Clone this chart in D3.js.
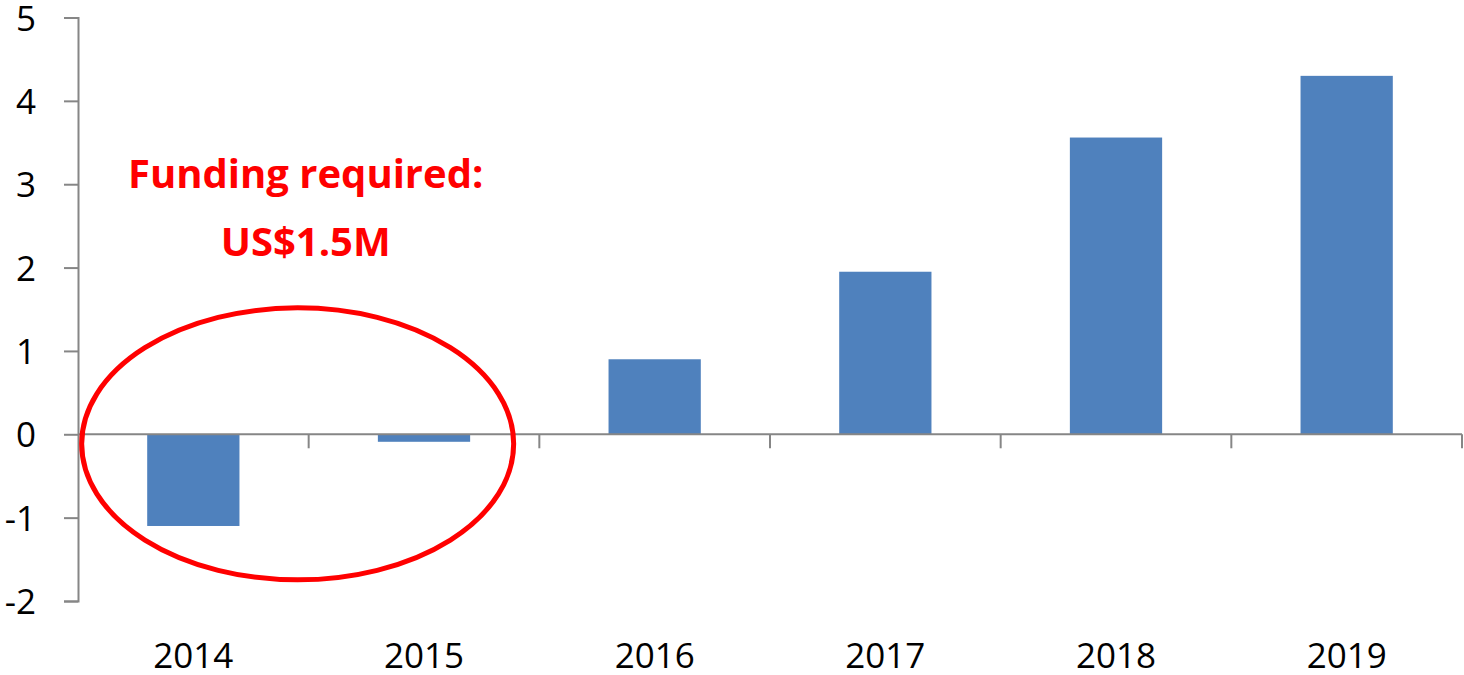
<!DOCTYPE html>
<html><head><meta charset="utf-8">
<script src="https://cdn.jsdelivr.net/npm/d3@7"></script>
<style>html,body{margin:0;padding:0;background:#fff;}svg{display:block;}</style>
</head><body>
<svg id="chart" width="1464" height="675"></svg>
<script>
const categories = ["2014","2015","2016","2017","2018","2019"];
const values = [-1.1, -0.09, 0.90, 1.95, 3.56, 4.30];
const yTicks = [-2,-1,0,1,2,3,4,5];
const annotationLines = ["Funding required:", "US$1.5M"];

const svg = d3.select("#chart");
const mLeft = 78, mRight = 1462, mTop = 17.5, mBottom = 601;
const x = d3.scaleBand().domain(categories).range([mLeft, mRight]).paddingInner(0.6).paddingOuter(0.3);
const xb = d3.scaleBand().domain(categories).range([mLeft, mRight]);
const y = d3.scaleLinear().domain([-2,5]).range([mBottom, mTop]);
const axisColor = "#868686";
const font = "Open Sans, Lato, sans-serif";

// bars
svg.append("g").selectAll("rect").data(values).join("rect")
  .attr("x", (d,i)=>x(categories[i]))
  .attr("width", x.bandwidth())
  .attr("y", d=>y(Math.max(0,d)))
  .attr("height", d=>Math.abs(y(d)-y(0)))
  .attr("fill", "#4F81BD");

// y axis
const yAxis = svg.append("g").attr("transform", `translate(${mLeft},0)`)
  .call(d3.axisLeft(y).tickValues(yTicks).tickSize(14).tickPadding(28).tickFormat(d3.format("d")));
yAxis.select(".domain").attr("stroke", axisColor).attr("stroke-width", 2);
yAxis.selectAll(".tick line").attr("stroke", axisColor).attr("stroke-width", 2);
yAxis.selectAll(".tick text").attr("font-family", font).attr("font-size", 35).attr("fill", "#000")
  .attr("dy", "0.36em").text(d => d < 0 ? "-" + Math.abs(d) : d);

// x axis at zero
const xAxisG = svg.append("g").attr("transform", `translate(0,${y(0)})`);
xAxisG.append("line").attr("x1", mLeft).attr("x2", mRight).attr("stroke", axisColor).attr("stroke-width", 2);
xAxisG.selectAll("line.tk").data(categories).join("line").attr("class","tk")
  .attr("x1", d=>xb(d)+xb.bandwidth()).attr("x2", d=>xb(d)+xb.bandwidth())
  .attr("y1", 0).attr("y2", 14).attr("stroke", axisColor).attr("stroke-width", 2);
svg.append("g").selectAll("text").data(categories).join("text")
  .attr("x", d=>xb(d)+xb.bandwidth()/2).attr("y", 668)
  .attr("text-anchor","middle").attr("font-family", font).attr("font-size", 35).attr("fill","#000")
  .text(d=>d);

// annotation
const ax = xb("2015") - 11;
svg.append("g").selectAll("text").data(annotationLines).join("text")
  .attr("x", ax + 8).attr("y", (d,i)=> 188 + i*68)
  .attr("text-anchor","middle").attr("font-family", font).attr("font-weight", "bold")
  .attr("font-size", 40).attr("fill", "#FF0000").text(d=>d);

svg.append("ellipse").attr("cx", ax).attr("cy", y(-0.115))
  .attr("rx", 216).attr("ry", 136).attr("fill","none").attr("stroke","#FF0000").attr("stroke-width", 5);
</script>
</body></html>
